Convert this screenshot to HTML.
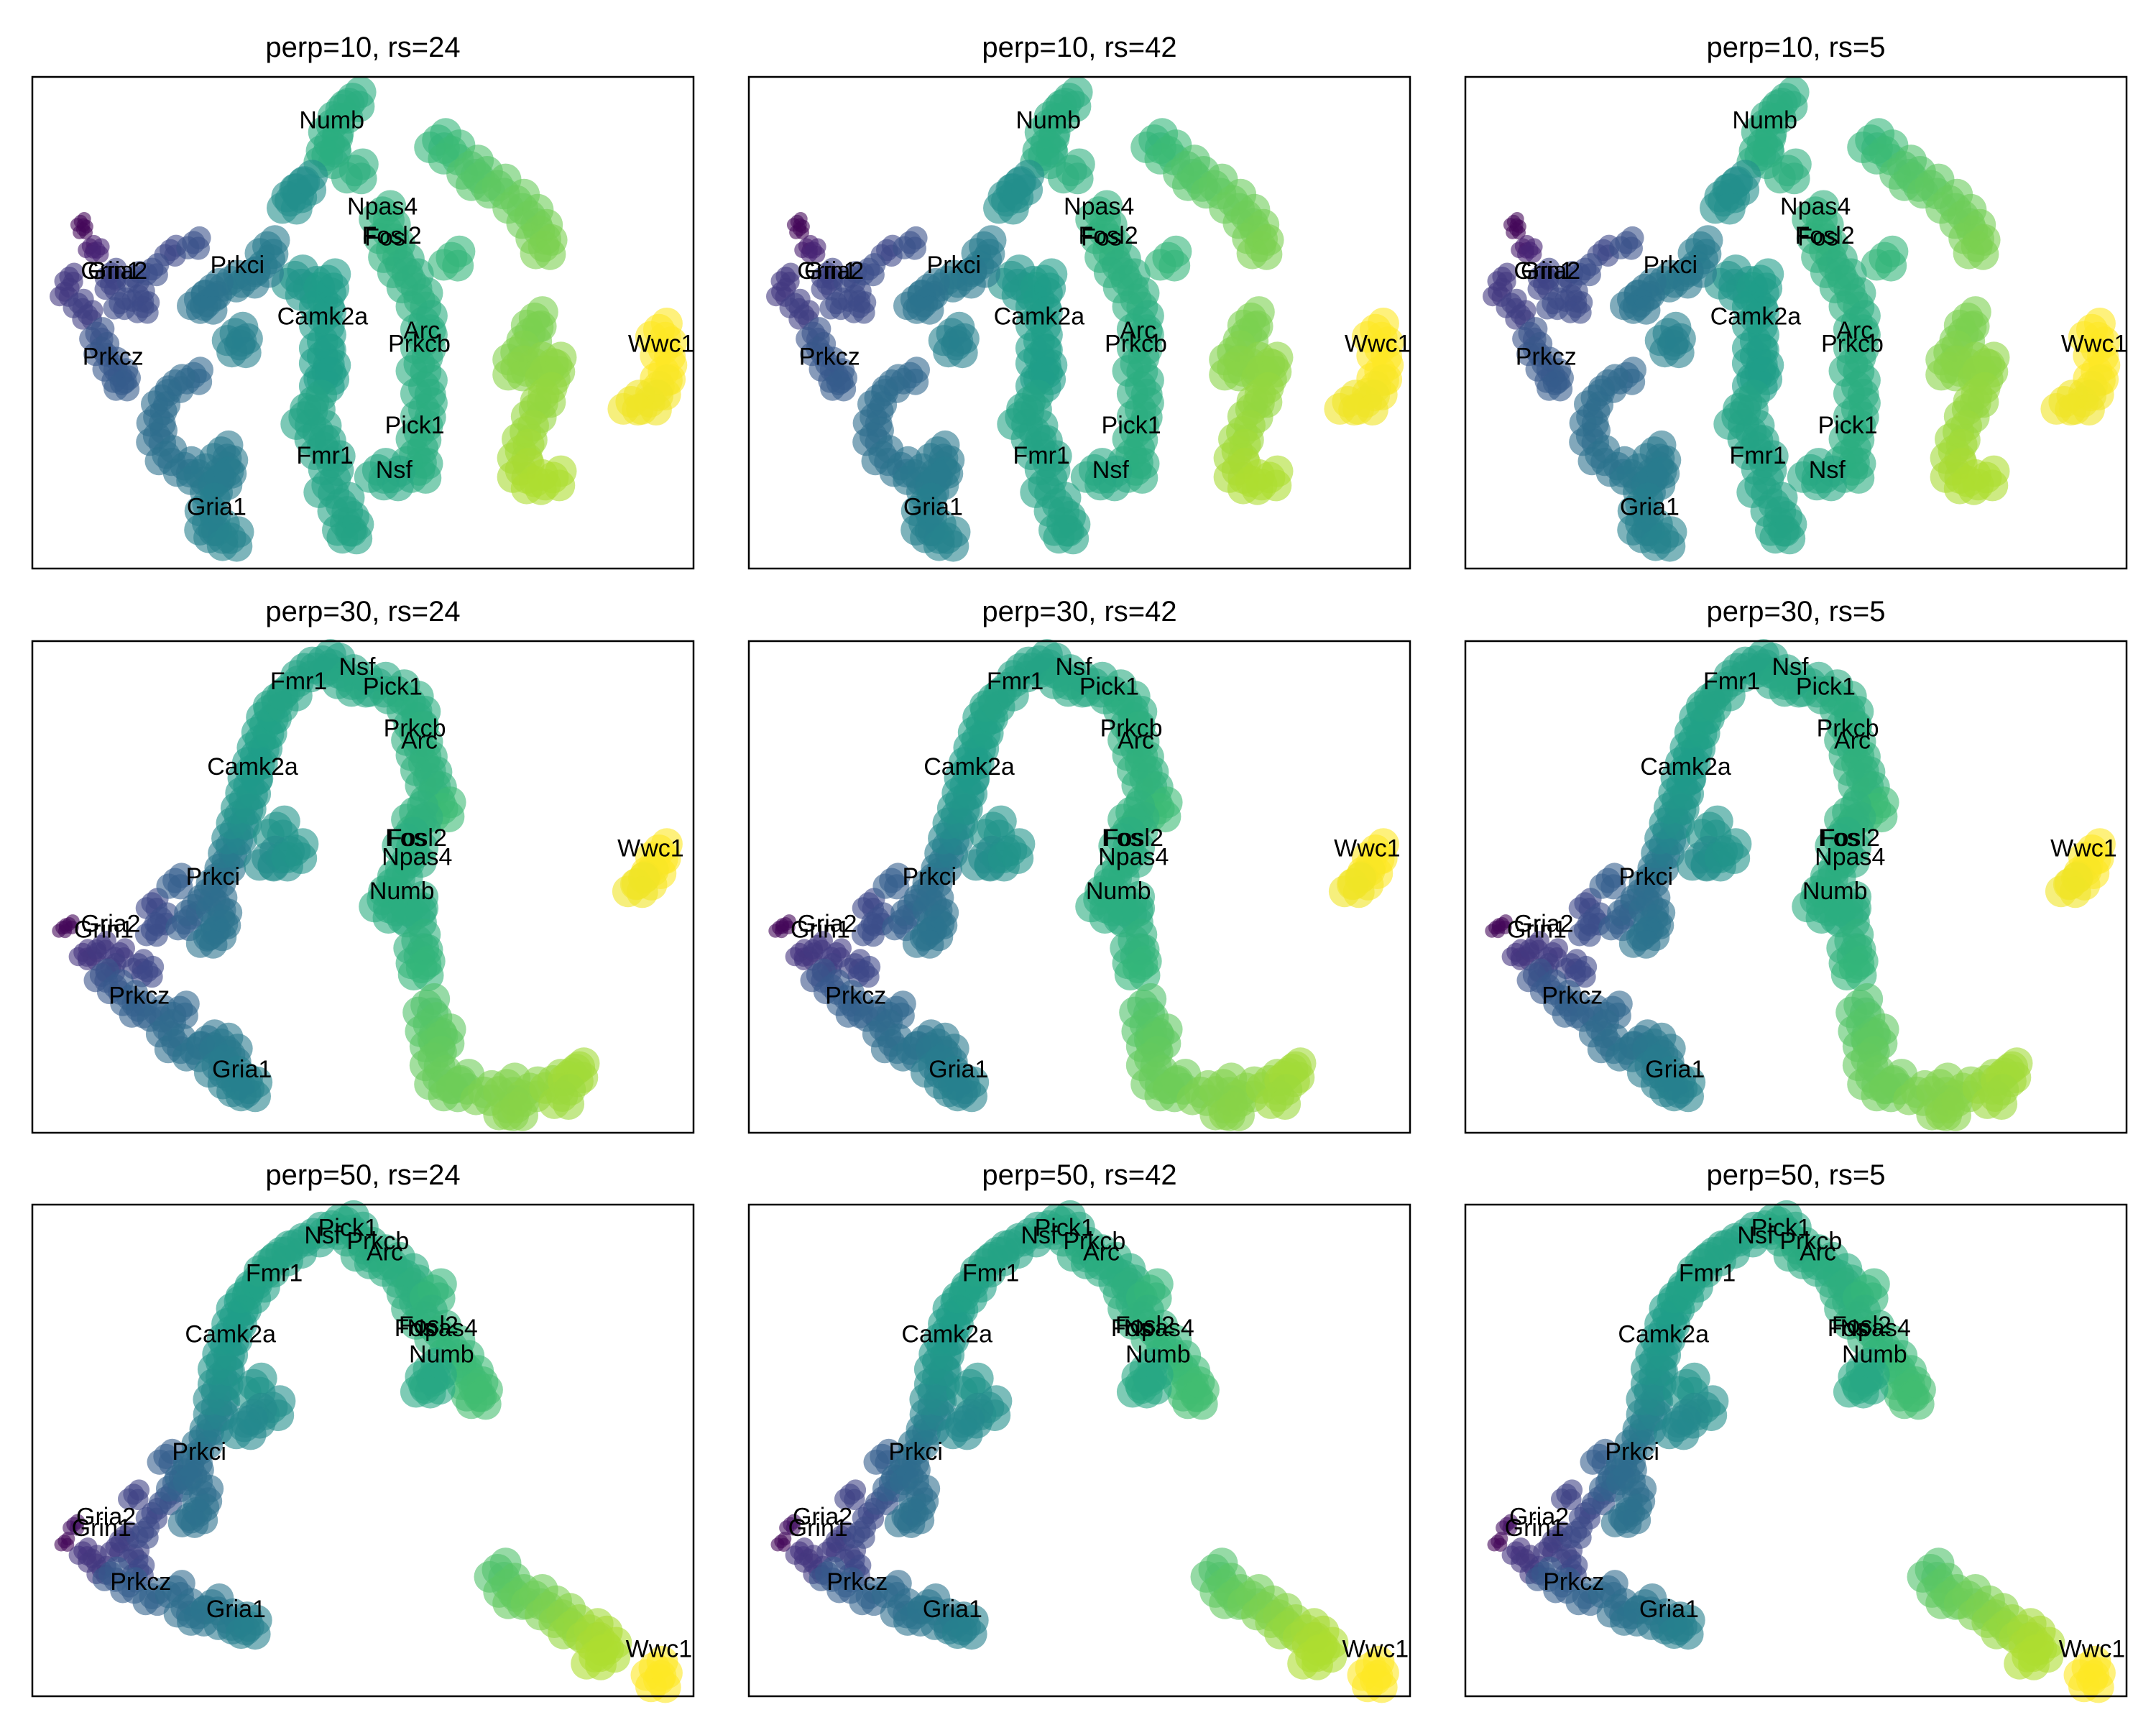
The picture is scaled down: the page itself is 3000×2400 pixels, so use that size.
<!DOCTYPE html>
<html><head><meta charset="utf-8"><style>
html,body{margin:0;padding:0;background:#fff}
svg{display:block}
text{font-family:"Liberation Sans",Arial,sans-serif;fill:#000}
</style></head><body>
<svg id="chart" width="3000" height="2400" viewBox="0 0 3000 2400"></svg>
<script>
// Data in embedding units; one layout per perplexity row (columns = random states)
const perplexities=[10,30,50];
const randomStates=[24,42,5];
const domainsX=[[70,1505],[70,1505],[70,1505]];
const domainsY=[[203,1500],[137,1437],[183,1485]];
const row1Points=[[765,260,.62],[740,290,.62],[720,330,.62],[715,380,.62],[710,410,.62],[770,450,.63],
[640,500,.5],[660,480,.5],[630,530,.5],
[950,370,.66],[980,400,.68],[1020,440,.72],[1040,470,.73],[1080,490,.75],[1120,530,.77],[1150,570,.78],[1170,610,.79],[1180,650,.8],
[980,680,.66],
[830,560,.64],[840,610,.64],[850,660,.64],[870,700,.63],[890,740,.63],[910,790,.63],[920,850,.62],[920,900,.62],[910,960,.62],[920,1020,.62],[920,1080,.62],[910,1140,.62],[900,1200,.62],[910,1240,.62],
[850,1260,.6],[820,1240,.6],
[640,730,.52],[670,760,.53],[700,790,.55],[710,740,.55],[700,840,.55],[700,900,.56],[700,940,.56],[710,980,.56],[700,1000,.56],
[680,1060,.58],[660,1100,.58],[690,1140,.58],[700,1180,.58],[720,1220,.58],[710,1280,.58],[740,1330,.58],[750,1380,.58],[760,1400,.58],
[580,650,.42],[570,700,.42],[540,730,.4],[500,740,.4],[460,760,.38],[430,790,.38],[450,800,.38],
[510,880,.44],[520,910,.44],
[175,585,.02],[180,605,.02],[195,650,.08],[210,660,.1],[370,660,.22],[420,640,.25],
[150,730,.17],[140,770,.17],[170,800,.19],[190,830,.19],[240,720,.21],[240,750,.21],[260,800,.23],[300,780,.23],[310,810,.23],[290,730,.23],[330,710,.24],
[210,880,.26],[220,920,.27],[240,960,.28],[260,990,.28],[265,1010,.29],
[420,990,.33],[380,1010,.34],[350,1050,.35],[340,1100,.35],[340,1150,.36],[360,1200,.37],[400,1230,.38],[430,1250,.4],[460,1280,.41],[480,1190,.4],[490,1230,.41],[480,1260,.42],[450,1330,.43],[450,1380,.44],[470,1400,.44],[500,1420,.45],
[1160,840,.8],[1150,880,.8],[1120,930,.81],[1120,970,.82],[1160,960,.82],[1190,980,.83],[1200,960,.83],[1180,1040,.84],[1160,1080,.84],[1140,1140,.85],[1130,1190,.86],[1130,1240,.87],[1200,1260,.88],[1160,1270,.88],
[1430,870,1],[1440,920,1],[1440,980,1],[1430,1020,.99],[1410,1060,.98],[1370,1060,.98]];
const row2Points=[[135,895,.02],[150,885,.02],
[180,960,.15],[200,970,.16],[220,940,.17],[260,960,.18],[240,1000,.19],[300,990,.2],[320,1010,.22],
[330,830,.22],[350,870,.24],[330,900,.24],[380,770,.3],
[400,880,.3],[420,840,.32],[450,800,.34],[470,760,.36],[490,720,.38],[500,680,.42],[510,640,.46],[520,600,.5],[530,560,.52],[540,520,.53],[545,480,.54],[555,440,.55],[565,400,.56],[575,360,.57],[585,320,.57],[600,290,.58],[630,260,.58],[660,210,.58],[700,190,.58],[720,200,.58],[750,230,.59],[780,250,.6],[820,250,.6],[860,270,.61],[890,300,.62],[905,340,.62],[900,380,.63],[910,420,.63],[920,460,.64],[930,500,.64],[940,540,.65],[960,580,.68],[900,590,.64],[910,620,.64],
[470,830,.36],[480,870,.37],[470,900,.38],[450,920,.38],
[600,630,.52],[580,710,.48],[610,710,.5],[640,690,.52],
[880,660,.62],[900,700,.62],[870,740,.62],[850,780,.62],[830,820,.62],[860,850,.62],[900,860,.62],[900,830,.62],
[905,930,.64],[910,970,.65],[915,1000,.66],
[220,1020,.26],[250,1050,.28],[280,1080,.3],[300,1110,.31],[340,1120,.32],[390,1110,.33],[360,1160,.34],[380,1200,.36],[420,1220,.38],[450,1190,.38],[480,1200,.4],[500,1230,.41],[470,1260,.42],[500,1290,.43],[540,1320,.45],[520,1310,.44],
[925,1100,.72],[930,1150,.73],[940,1190,.74],[960,1180,.75],[940,1240,.76],[950,1290,.77],[980,1320,.78],[1000,1300,.78],[1050,1330,.8],[1100,1310,.81],[1150,1320,.82],[1100,1370,.81],[1120,1370,.82],[1200,1300,.84],[1240,1280,.86],[1250,1270,.86],[1220,1340,.85],
[1430,690,1],[1420,730,1],[1400,760,.99],[1380,780,.98]];
const row3Points=[[140,1075,.02],[160,1030,.05],
[180,1100,.15],[200,1120,.16],[220,1150,.17],[250,1090,.18],[270,1060,.19],[290,1110,.2],[300,1150,.22],
[290,950,.2],[330,1000,.22],[310,1050,.23],[360,960,.25],
[360,850,.3],[380,920,.31],[400,890,.33],[420,850,.35],[440,800,.38],[460,760,.42],[470,720,.45],[470,680,.48],[480,640,.5],[480,600,.52],[490,560,.53],[500,520,.54],[510,480,.55],[520,440,.56],[540,410,.57],[560,380,.57],[580,340,.58],[610,310,.58],[640,290,.58],[680,260,.58],[720,240,.59],[750,230,.6],[770,260,.6],[790,300,.61],[820,320,.61],[850,340,.62],[880,370,.62],[890,400,.63],[900,440,.63],[940,410,.66],[920,480,.64],[950,520,.65],[980,560,.66],[1000,600,.67],[1020,640,.68],[1040,690,.7],[1030,670,.69],
[930,620,.6],[940,650,.6],[920,660,.6],
[420,900,.35],[440,950,.36],[430,1000,.37],[410,1010,.37],
[550,660,.52],[590,720,.5],[550,740,.48],[530,770,.47],
[240,1160,.28],[280,1190,.3],[330,1220,.32],[380,1200,.34],[400,1250,.36],[430,1270,.38],[460,1240,.39],[490,1280,.4],[520,1290,.42],[540,1300,.44],
[1080,1150,.72],[1100,1190,.74],[1120,1220,.76],[1160,1220,.78],[1190,1250,.8],[1220,1270,.82],[1240,1300,.84],[1280,1310,.86],[1300,1330,.87],[1320,1360,.88],[1290,1380,.88],
[1420,1410,1],[1430,1440,1]];
const row1Labels=[["Numb",720,318],["Npas4",830,545],["Fosl2",850,622],["Fos",835,627],["Gria2",255,715],["Grin1",240,715],["Prkci",515,700],["Camk2a",700,835],["Arc",915,872],["Prkcb",910,907],["Wwc1",1435,907],["Prkcz",245,942],["Pick1",900,1123],["Fmr1",705,1202],["Nsf",855,1240],["Gria1",470,1338]];
const row2Labels=[["Nsf",775,205],["Fmr1",648,243],["Pick1",852,258],["Prkcb",900,368],["Arc",910,400],["Camk2a",548,470],["Fosl2",905,658],["Fos",880,658],["Npas4",905,708],["Wwc1",1412,685],["Prkci",462,760],["Numb",872,798],["Gria2",240,885],["Grin1",225,900],["Prkcz",302,1075],["Gria1",525,1270]];
const row3Labels=[["Pick1",755,245],["Nsf",700,265],["Prkcb",820,280],["Arc",835,310],["Fmr1",595,365],["Camk2a",500,527],["Fosl2",930,503],["Npas4",960,510],["Fos",900,510],["Numb",958,580],["Prkci",432,838],["Gria2",230,1010],["Grin1",220,1040],["Prkcz",305,1182],["Gria1",512,1255],["Wwc1",1430,1360]];
const rowPoints=[row1Points,row2Points,row3Points];
const rowLabels=[row1Labels,row2Labels,row3Labels];

const NS="http://www.w3.org/2000/svg";
const svg=document.getElementById('chart');
const colLeft=[45,1042,2039], rowTop=[107,892,1676], W=920, H=684;
const blob=[[0,0],[-1,0.9],[1,-0.8],[0.8,1]];
const vir=[[68,1,84],[72,40,120],[62,73,137],[49,104,142],[38,130,142],[31,158,137],[53,183,121],[109,205,89],[180,222,44],[253,231,37]];
function viridis(t){t=Math.max(0,Math.min(1,t));const s=t*9,i=Math.min(8,Math.floor(s)),f=s-i;const a=vir[i],b=vir[i+1];return `rgb(${a.map((v,k)=>Math.round(v+(b[k]-v)*f)).join(',')})`;}
function mk(tag,attrs,parent){const e=document.createElementNS(NS,tag);for(const k in attrs)e.setAttribute(k,attrs[k]);parent.appendChild(e);return e;}
for(let r=0;r<3;r++){for(let c=0;c<3;c++){
  const x0=colLeft[c],y0=rowTop[r];
  const dx=domainsX[r],dy=domainsY[r];
  const sx=v=>x0+(v-dx[0])/(dx[1]-dx[0])*W;
  const sy=v=>y0+(v-dy[0])/(dy[1]-dy[0])*H;
  const g=mk('g',{},svg);
  
  
  const t=mk('text',{x:x0+W/2,y:y0-28,'text-anchor':'middle','font-size':40},g);
  
  
  t.textContent='perp='+perplexities[r]+', rs='+randomStates[c];
  const pg=mk('g',{},g);
  
  
  for(const p of rowPoints[r]){
    const pt=mk('g',{},pg);
    
    
    const rad=9+13*Math.min(1,p[2]*2.2);
    const off=rad*0.5;
    for(const o of blob){
      mk('circle',{cx:(sx(p[0])+o[0]*off).toFixed(1),cy:(sy(p[1])+o[1]*off).toFixed(1),r:rad.toFixed(1),fill:viridis(p[2]),'fill-opacity':0.6},pt);
    }
  }
  for(const l of rowLabels[r]){
    const tx=mk('text',{x:sx(l[1]).toFixed(1),y:sy(l[2]).toFixed(1),'text-anchor':'middle','dominant-baseline':'central','font-size':34},g);
    
    
    tx.textContent=l[0];
  }
  const fr=mk('rect',{x:x0,y:y0,width:W,height:H,fill:'none',stroke:'#000','stroke-width':2.5},g);
  
  
}}
</script>
</body></html>
